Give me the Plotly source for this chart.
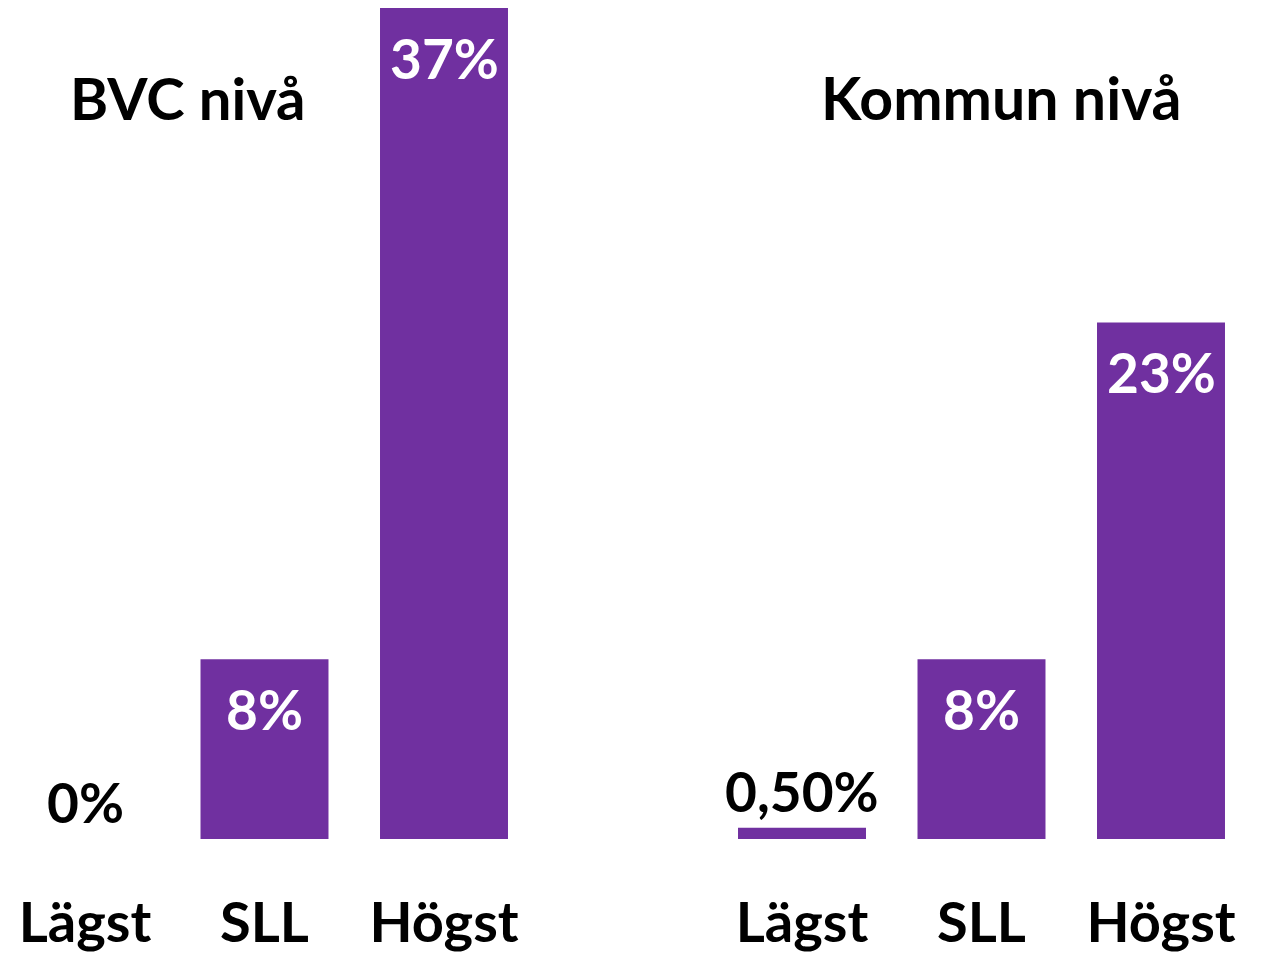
import plotly.graph_objects as go

categories = ["Lägst", "SLL", "Högst"]
bvc_values = [0, 8, 37]
bvc_labels = ["0%", "8%", "37%"]
kommun_values = [0.5, 8, 23]
kommun_labels = ["0,50%", "8%", "23%"]
titles = ["BVC nivå", "Kommun nivå"]

PURPLE = "#7030A0"
FONT = "Lato, 'Open Sans', sans-serif"
W, H = 1266, 953

fig = go.Figure()
fig.add_trace(go.Bar(x=categories, y=bvc_values, marker=dict(color=PURPLE, line=dict(width=0)),
                     xaxis="x", yaxis="y", hoverinfo="skip"))
fig.add_trace(go.Bar(x=categories, y=kommun_values, marker=dict(color=PURPLE, line=dict(width=0)),
                     xaxis="x2", yaxis="y", hoverinfo="skip"))

annotations = []
big = max(bvc_values + kommun_values)
for xref, vals, labs in (("x", bvc_values, bvc_labels), ("x2", kommun_values, kommun_labels)):
    for c, v, t in zip(categories, vals, labs):
        inside = v > big * 0.1
        annotations.append(dict(
            x=c, y=v, xref=xref, yref="y", text=f"<b>{t}</b>", showarrow=False,
            yanchor="middle", yshift=-50 if inside else 37,
            font=dict(family=FONT, size=55, color="white" if inside else "black")))

annotations.append(dict(x=187 / W, y=1 - 111 / H, xref="paper", yref="paper", text=f"<b>{titles[0]}</b>",
                        showarrow=False, xanchor="center", yanchor="middle",
                        font=dict(family=FONT, size=58, color="black")))
annotations.append(dict(x=1001 / W, y=1 - 111 / H, xref="paper", yref="paper", text=f"<b>{titles[1]}</b>",
                        showarrow=False, xanchor="center", yanchor="middle",
                        font=dict(family=FONT, size=59, color="black")))

px_per_cat = 179.5
d1_end = 540
d2_start = 710
axis_common = dict(type="category", showgrid=False, zeroline=False, showline=False, ticks="",
                   tickfont=dict(family=FONT, size=56, color="black"), ticklabelstandoff=46,
                   fixedrange=True)
fig.update_layout(
    width=W, height=H, autosize=False,
    margin=dict(l=0, r=0, t=0, b=114),
    paper_bgcolor="white", plot_bgcolor="white",
    showlegend=False, bargap=0.287,
    xaxis=dict(domain=[0, d1_end / W], range=[-85 / px_per_cat, -85 / px_per_cat + d1_end / px_per_cat],
               anchor="y", tickvals=categories, ticktext=[f"<b>{c}</b>" for c in categories], **axis_common),
    xaxis2=dict(domain=[d2_start / W, 1], range=[-92 / px_per_cat, -92 / px_per_cat + (W - d2_start) / px_per_cat],
                anchor="y", tickvals=categories, ticktext=[f"<b>{c}</b>" for c in categories], **axis_common),
    yaxis=dict(range=[0, 839 * 37 / 831], visible=False, fixedrange=True),
    annotations=annotations,
)

fig.write_html("out.html", config={"displayModeBar": False},
               post_script="document.body.style.margin='0';document.body.style.overflow='hidden';")
